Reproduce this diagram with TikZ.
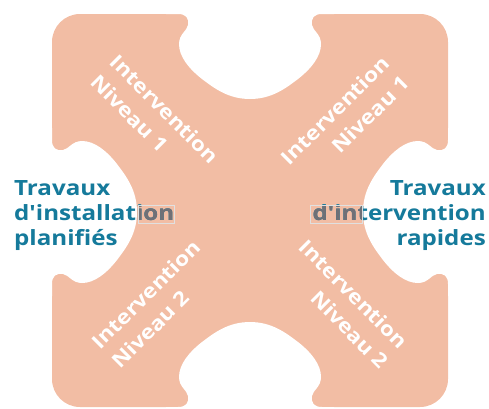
\documentclass[tikz,border=0pt]{standalone}
\usepackage{fontspec}
\newfontfamily\sidefont{Open Sans}[FakeStretch=1.15]
\newfontfamily\armfont{Open Sans}[FakeStretch=1.14]
\definecolor{salmon}{RGB}{242,189,164}
\definecolor{myteal}{RGB}{21,122,155}
\definecolor{overgray}{RGB}{112,112,118}
\tikzset{
  sidetext/.style={font=\sidefont\fontsize{21}{25}\selectfont\bfseries, inner sep=0pt},
  armtext/.style={font=\armfont\fontsize{20}{28}\selectfont\bfseries, text=white, inner sep=0pt},
  notch/.pic={
    \fill[white] (-84,-8) -- (-84,0) -- (-72,0)
      .. controls (-64,0) and (-61,4) .. (-62,11)
      .. controls (-63,17) and (-71,20) .. (-71,30)
      .. controls (-71,42) and (-62,54) .. (-48,65)
      .. controls (-36,74) and (-22,85) .. (0,85)
      .. controls (22,85) and (36,74) .. (48,65)
      .. controls (62,54) and (71,42) .. (71,30)
      .. controls (71,20) and (63,17) .. (62,11)
      .. controls (61,4) and (64,0) .. (72,0)
      -- (84,0) -- (84,-8) -- cycle;
  }
}
\begin{document}
\begin{tikzpicture}[x=1pt,y=-1pt]
\useasboundingbox (0,0) rectangle (489,408);
% body
\fill[salmon, rounded corners=28pt] (52,14) rectangle (448,407);
\pic at (250,14) {notch};
\pic[rotate=180] at (250,407) {notch};
\pic[rotate=90] at (52,212) {notch};
\pic[rotate=-90] at (448,212) {notch};
% arm labels
\node[armtext, align=left,  rotate=-45] (a1) at (155,119) {Intervention\\Niveau 1};
\node[armtext, align=right, rotate=45]  (a2) at (345,120) {Intervention\\Niveau 1};
\node[armtext, align=left,  rotate=45]  (a3) at (156,304) {Intervention\\Niveau 2};
\node[armtext, align=right, rotate=-45] (a4) at (344,304) {Intervention\\Niveau 2};
% side labels
\node[sidetext, text=myteal, align=left, anchor=north west] (L) at (14,180) {Travaux\\d'installation\\planifiés};
\node[sidetext, text=myteal, align=right, anchor=north east] (R) at (486,180) {Travaux\\d'intervention\\rapides};
% overlap artefacts
\begin{scope}
  \clip (138,205) rectangle (174,223);
  \node[sidetext, text=overgray, align=left, anchor=north west] (Lg) at (14,180) {Travaux\\d'installation\\planifiés};
\end{scope}
\begin{scope}
  \clip (310,205) rectangle (362,223);
  \node[sidetext, text=overgray, align=right, anchor=north east] (Rg) at (486,180) {Travaux\\d'intervention\\rapides};
\end{scope}
\draw[black!12, line width=0.4pt] (138,205) rectangle (174,223);
\draw[black!12, line width=0.4pt] (310,205) rectangle (362,223);
\end{tikzpicture}
\end{document}
